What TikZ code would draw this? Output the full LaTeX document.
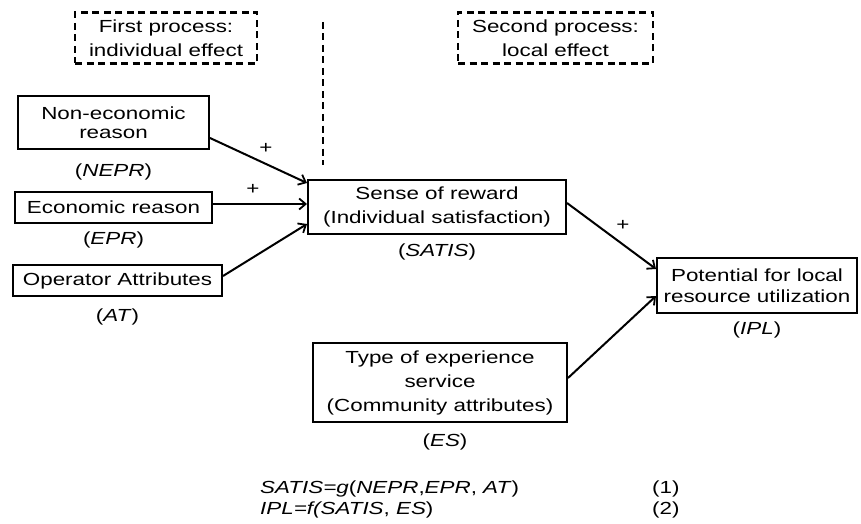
\documentclass[tikz,border=0pt]{standalone}
\usepackage{fontspec}
\setmainfont{Liberation Sans}[FakeStretch=1.28]
\usetikzlibrary{arrows.meta}
\tikzset{
  box/.style={draw, line width=2pt, inner sep=0pt, align=center},
  dbox/.style={draw, line width=2.2pt, dash pattern=on 7pt off 4.5pt, inner sep=0pt, align=center},
  lbl/.style={inner sep=0pt, anchor=center},
  conn/.style={line width=2pt, -{Straight Barb[length=6.5pt,width=11pt,line width=1.8pt]}},
  txt/.style={font=\fontsize{17.5}{24}\selectfont},
}
\begin{document}
\begin{tikzpicture}[x=1pt,y=-1pt]
\useasboundingbox (0,0) rectangle (861,524);
% dashed boxes
\node[dbox, txt, minimum width=182pt, minimum height=51pt] (p1) at (166,38) {First process:\\individual effect};
\node[dbox, txt, minimum width=195pt, minimum height=51pt] (p2) at (555.5,38) {Second process:\\local effect};
\coordinate (d1) at (323,22);
\coordinate (d2) at (323,165);
\draw[line width=2.2pt, dash pattern=on 7pt off 4.5pt] (d1) -- (d2);
% left boxes
\node[box, font=\fontsize{17.5}{19}\selectfont, minimum width=191pt, minimum height=53pt] (ne) at (113.5,122.5) {Non-economic\\reason};
\node[lbl, txt] (nel) at (113.5,172) {(\textit{NEPR})};
\node[box, txt, minimum width=197pt, minimum height=31pt] (ep) at (113.5,207.5) {Economic reason};
\node[lbl, txt] (epl) at (113.5,240) {(\textit{EPR})};
\node[box, txt, minimum width=209pt, minimum height=31pt] (at) at (117.5,280.5) {Operator Attributes};
\node[lbl, txt] (atl) at (117.5,317) {(\textit{AT})};
% center
\node[box, txt, minimum width=258pt, minimum height=54pt] (sat) at (437,207) {Sense of reward\\(Individual satisfaction)};
\node[lbl, txt] (satl) at (437,252) {(\textit{SATIS})};
\node[box, txt, minimum width=254pt, minimum height=79pt] (es) at (440,382.5) {Type of experience\\service\\(Community attributes)};
\node[lbl, txt] (esl) at (445,442) {(\textit{ES})};
% right
\node[box, font=\fontsize{17.5}{21}\selectfont, minimum width=200pt, minimum height=55pt] (ipl) at (757,285.5) {Potential for local\\resource utilization};
\node[lbl, txt] (ipll) at (757,330) {(\textit{IPL})};
% connectors
\draw[conn] ([yshift=-15.5pt]ne.east) -- ([yshift=24pt]sat.west);
\draw[conn] ([yshift=3.5pt]ep.east) -- ([yshift=3pt]sat.west);
\draw[conn] ([yshift=4.5pt]at.east) -- ([yshift=-17pt]sat.west);
\draw[conn] ([yshift=4pt]sat.east) -- ([yshift=16.5pt]ipl.west);
\draw[conn] ([yshift=4.5pt]es.east) -- ([yshift=-10.5pt]ipl.west);
% plus signs
\node[lbl, txt] (pl1) at (266,148) {+};
\node[lbl, txt] (pl2) at (253,189) {+};
\node[lbl, txt] (pl3) at (623,225) {+};
% equations
\node[txt, anchor=west, inner sep=0pt] (eq1) at (260,489) {\textit{SATIS=g}(\textit{NEPR},\textit{EPR}, \textit{AT})};
\node[txt, anchor=west, inner sep=0pt] (eq2) at (260,510) {\textit{IPL=f(SATIS}, \textit{ES})};
\node[txt, anchor=west, inner sep=0pt] (n1) at (652,489) {(1)};
\node[txt, anchor=west, inner sep=0pt] (n2) at (652,510) {(2)};
\end{tikzpicture}
\end{document}
